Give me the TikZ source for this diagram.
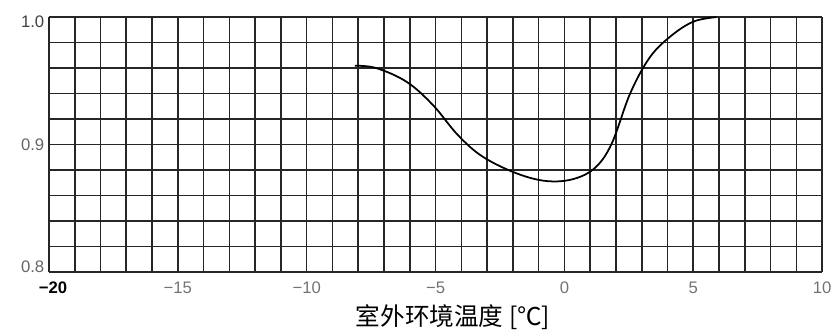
\documentclass[tikz,border=0pt]{standalone}
\usepackage{fontspec}
\setmainfont{Liberation Sans}
\newfontfamily\cjk{Noto Sans CJK SC}
\usetikzlibrary{positioning}

\tikzset{
  gitter/.style={black!85, line width=0.9pt},
  kurve/.style={black, line width=1pt},
  ylabel/.style={anchor=east, text=black!60, inner sep=1pt, font=\fontsize{9.5}{10}\selectfont},
  xlabel/.style={text=black!55, inner sep=1pt, font=\fontsize{9.5}{10}\selectfont},
  titel/.style={inner sep=1pt, font=\cjk\fontsize{14}{15}\selectfont}
}

\begin{document}
\begin{tikzpicture}[x=0.5154cm, y=0.51cm]
\useasboundingbox (-21.9,-2.39) rectangle (10.5,10.67);

% Gitter
\draw[gitter, step=1] (-20,0) grid (10,10);

% Beschriftung y-Achse
\node[ylabel, text=black!75] (y10) at (-20.1,9.8) {1.0};
\node[ylabel] (y09) at (-20.1,5) {0.9};
\node[ylabel] (y08) at (-20.1,0.2) {0.8};

% Beschriftung x-Achse
\node[xlabel, text=black, font=\bfseries\fontsize{9.5}{10}\selectfont] (xm20) at (-19.84,-0.63) {−20};
\foreach \t/\n/\s in {-15/m15/−15, -10/m10/−10, -5/m5/−5, 0/0/0, 5/5/5, 10/10/10}
  \node[xlabel] (x\n) at (\t,-0.63) {\s};

% Achsentitel
\node[titel] (titel) at (-4.32,-1.76) {室外环境温度 [℃]};

% Kurve
\draw[kurve] plot[smooth, tension=0.6] coordinates {
  (-8.13,8.09) (-7.3,8.0) (-6.12,7.46) (-5.1,6.55) (-4.13,5.37)
  (-3.16,4.52) (-1.85,3.87) (-0.69,3.57) (0.35,3.65) (1.2,4.1)
  (1.84,5.05) (2.55,7.0) (3.3,8.4) (4.1,9.23) (5.0,9.82) (5.9,10)};
\end{tikzpicture}
\end{document}
